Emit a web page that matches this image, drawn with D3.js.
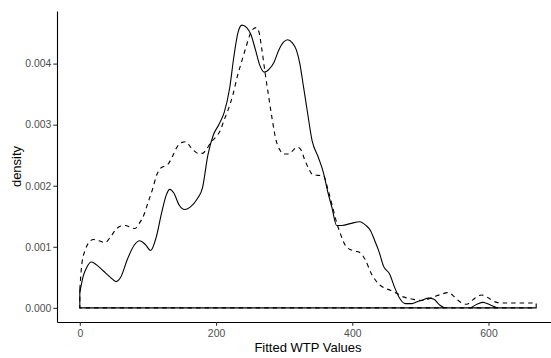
<!DOCTYPE html>
<html>
<head>
<meta charset="utf-8">
<script src="https://cdn.jsdelivr.net/npm/d3@7"></script>
<style>
  html, body { margin: 0; padding: 0; background: #fff; }
  svg { display: block; font-family: "Liberation Sans", Arial, sans-serif; }
</style>
</head>
<body>
<svg id="chart" width="551" height="358"></svg>
<script>
// Kernel density estimates of fitted WTP values (two groups)
const solidX = [0, 5, 10, 17, 25, 35, 45, 53, 60, 70, 80, 88, 96, 104, 112, 120, 127, 132, 138, 146,
  154, 162, 172, 180, 188, 196, 204, 212, 220, 226, 232, 238, 245, 251, 258, 264, 271, 278, 285, 292,
  299, 305, 312, 318, 323, 328, 334, 341, 350, 358, 364, 370, 377, 385, 397, 411, 420, 427, 433, 439,
  446, 455, 462, 470, 478, 488, 495, 503, 512, 520, 528, 536, 572, 583, 592, 602, 614, 670];
const solidY = [0.00025, 0.00052, 0.00066, 0.00075, 0.00070, 0.00060, 0.00050, 0.00043, 0.00050, 0.00080,
  0.00103, 0.00110, 0.00104, 0.00094, 0.00115, 0.00155, 0.00185, 0.00194, 0.00188, 0.00168,
  0.00161, 0.00165, 0.00178, 0.00196, 0.00250, 0.00283, 0.00300, 0.00320, 0.00360, 0.00410,
  0.00450, 0.00463, 0.00459, 0.00448, 0.00422, 0.00398, 0.00386, 0.00391, 0.00402, 0.00422,
  0.00435, 0.00439, 0.00434, 0.00422, 0.00400, 0.00365, 0.00322, 0.00274, 0.00247, 0.00220,
  0.00190, 0.00165, 0.00135, 0.00135, 0.00138, 0.00141, 0.00135, 0.00126, 0.00110, 0.00093,
  0.00068, 0.00055, 0.00034, 0.00015, 0.00007, 0.00007, 0.00010, 0.00013, 0.00016, 0.00014,
  0.00005, 0.00000, 0.00000, 0.00006, 0.00009, 0.00005, 0.00000, 0.00000];

const dashedX = [0, 3, 8, 14, 20, 28, 37, 45, 52, 60, 67, 74, 81, 87, 94, 100, 107, 113, 118, 124,
  130, 136, 142, 150, 156, 162, 168, 174, 180, 186, 193, 200, 206, 212, 218, 225, 231, 238, 244, 250,
  256, 259, 263, 267, 272, 277, 282, 288, 294, 300, 307, 313, 319, 324, 330, 336, 342, 350, 358, 364,
  370, 377, 383, 390, 396, 405, 412, 419, 428, 435, 441, 448, 456, 465, 475, 485, 495, 505, 513, 520,
  530, 541, 550, 558, 568, 577, 584, 590, 597, 605, 612, 620, 670];
const dashedY = [0.00030, 0.00072, 0.00095, 0.00108, 0.00112, 0.00110, 0.00107, 0.00116, 0.00127, 0.00134,
  0.00135, 0.00132, 0.00130, 0.00138, 0.00152, 0.00172, 0.00195, 0.00218, 0.00228, 0.00232,
  0.00236, 0.00248, 0.00262, 0.00271, 0.00272, 0.00264, 0.00257, 0.00253, 0.00253, 0.00260,
  0.00272, 0.00280, 0.00290, 0.00308, 0.00325, 0.00350, 0.00378, 0.00405, 0.00427, 0.00448,
  0.00458, 0.00459, 0.00452, 0.00425, 0.00385, 0.00348, 0.00312, 0.00275, 0.00258, 0.00252,
  0.00252, 0.00258, 0.00263, 0.00260, 0.00243, 0.00228, 0.00218, 0.00217, 0.00216, 0.00195,
  0.00170, 0.00140, 0.00120, 0.00102, 0.00096, 0.00093, 0.00090, 0.00079, 0.00056, 0.00044,
  0.00037, 0.00032, 0.00029, 0.00024, 0.00018, 0.00015, 0.00013, 0.00012, 0.00015, 0.00018,
  0.00022, 0.00025, 0.00018, 0.00010, 0.00006, 0.00013, 0.00019, 0.00021, 0.00018, 0.00013,
  0.00009, 0.00008, 0.00008];

const xTicks = [0, 200, 400, 600];
const yTicks = [0.000, 0.001, 0.002, 0.003, 0.004];
const xTitle = "Fitted WTP Values";
const yTitle = "density";

const svg = d3.select("#chart");

// Panel bounds; scales padded by 5% on each side of the data range
const panel = { left: 57, right: 559, top: 11, bottom: 322 };
const xMin = 0, xMax = 670;
const yMax = d3.max([...solidY, ...dashedY]) * 1.05 / 1.0;
const xPad = (xMax - xMin) * 0.05;
const yTop = d3.max([...solidY, ...dashedY]);
const yPad = yTop * 0.05;

const x = d3.scaleLinear().domain([xMin - xPad, xMax + xPad]).range([panel.left, panel.right]);
const y = d3.scaleLinear().domain([-yPad, yTop + yPad]).range([panel.bottom, panel.top]);

// Density outlines: closed shapes (curve, end edges and baseline)
const outline = d3.area()
  .x(d => x(d[0]))
  .y0(y(0))
  .y1(d => y(d[1]))
  .curve(d3.curveMonotoneX);

const solid = d3.zip(solidX, solidY);
const dashed = d3.zip(dashedX, dashedY);

svg.append("path")
  .datum(solid)
  .attr("d", outline)
  .attr("fill", "none")
  .attr("stroke", "#000")
  .attr("stroke-width", 1.1);

svg.append("path")
  .datum(dashed)
  .attr("d", outline)
  .attr("fill", "none")
  .attr("stroke", "#000")
  .attr("stroke-width", 1.1)
  .attr("stroke-dasharray", "4.5,4");

// Axes
const xAxis = d3.axisBottom(x).tickValues(xTicks).tickSize(3.7).tickSizeOuter(0).tickPadding(3.6)
  .tickFormat(d3.format("d"));
const yAxis = d3.axisLeft(y).tickValues(yTicks).tickSize(3.7).tickSizeOuter(0).tickPadding(2)
  .tickFormat(d3.format(".3f"));

function styleAxis(g) {
  g.select(".domain").attr("stroke", "#000").attr("stroke-width", 1.1);
  g.selectAll(".tick line").attr("stroke", "#333333").attr("stroke-width", 1.1);
  g.selectAll(".tick text")
    .attr("fill", "#4D4D4D")
    .style("font-size", "10.4px")
    .style("font-family", "'Liberation Sans', Arial, sans-serif");
}

svg.append("g")
  .attr("transform", `translate(0,${panel.bottom})`)
  .call(xAxis)
  .call(styleAxis);

svg.append("g")
  .attr("transform", `translate(${panel.left},0)`)
  .call(yAxis)
  .call(styleAxis);

// Axis titles
svg.append("text")
  .attr("x", (panel.left + panel.right) / 2)
  .attr("y", 351.7)
  .attr("text-anchor", "middle")
  .attr("fill", "#000")
  .style("font-size", "13px")
  .text(xTitle);

svg.append("text")
  .attr("transform", `translate(20.5,${(panel.top + panel.bottom) / 2}) rotate(-90)`)
  .attr("text-anchor", "middle")
  .attr("fill", "#000")
  .style("font-size", "13px")
  .text(yTitle);
</script>
</body>
</html>
